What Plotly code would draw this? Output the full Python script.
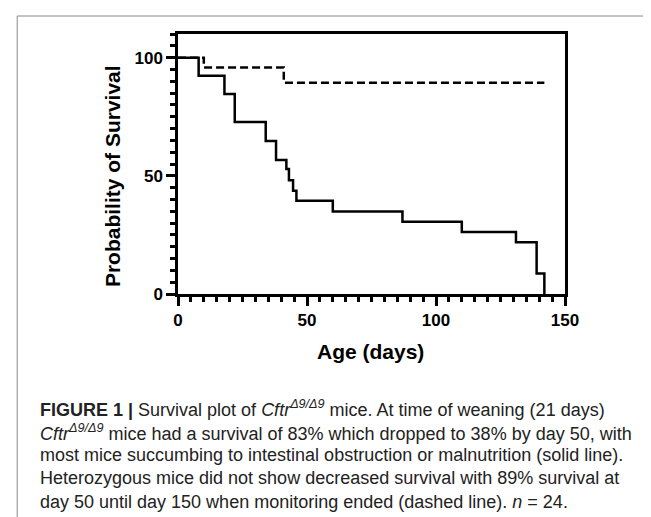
import plotly.graph_objects as go

# Kaplan-Meier data
solid_days = [0, 8, 18, 22, 34, 38, 42, 43, 44.6, 45.9, 60, 87, 110, 131, 139, 142]
solid_surv = [100, 92.3, 84.6, 72.8, 64.7, 56.7, 52.9, 48.1, 43.7, 39.4, 34.9, 30.6, 26.2, 21.9, 8.7, 0]
dashed_days = [0, 10, 41, 142]
dashed_surv = [100, 95.8, 89.4, 89.4]
x_ticks = [0, 50, 100, 150]
y_ticks = [0, 50, 100]

W, H = 651, 517
L, R, T, B = 170, 557.5, 26, 286  # plot area pixels

def px(x):
    return (x - L) / (R - L)

def py(y):
    return (B - y) / (B - T)

fig = go.Figure()
fig.add_trace(go.Scatter(x=dashed_days, y=dashed_surv, mode="lines", line_shape="hv",
                         line=dict(color="black", width=2.5, dash="8px,4px"), showlegend=False))
fig.add_trace(go.Scatter(x=solid_days, y=solid_surv, mode="lines", line_shape="hv",
                         line=dict(color="black", width=2.5), showlegend=False))

axis_common = dict(showgrid=False, zeroline=False, showline=True, linecolor="black", linewidth=2.5,
                   mirror=True, ticks="outside", ticklen=9, tickwidth=2.5, tickcolor="black",
                   tickfont=dict(family="Liberation Sans", size=17, color="black"))

fig.update_xaxes(range=[0, 150], tickvals=x_ticks, ticktext=[f"<b>{v}</b>" for v in x_ticks],
                 minor=dict(dtick=5, ticklen=5, tickwidth=2.5, tickcolor="black", ticks="outside"),
                 **axis_common)
fig.update_yaxes(range=[0, 110], tickvals=y_ticks, ticktext=[f"<b>{v}</b>" for v in y_ticks],
                 minor=dict(dtick=5, ticklen=5, tickwidth=2.5, tickcolor="black", ticks="outside"),
                 **axis_common)

anns = []
anns.append(dict(text="<b>Age (days)</b>", x=px(363), y=py(343), xref="paper", yref="paper",
                 showarrow=False, xanchor="center", yanchor="middle",
                 font=dict(family="Liberation Sans", size=21, color="black")))
anns.append(dict(text="<b>Probability of Survival</b>", x=px(104), y=py(168), xref="paper", yref="paper",
                 showarrow=False, xanchor="center", yanchor="middle", textangle=-90,
                 font=dict(family="Liberation Sans", size=21, color="black")))

caption = [
    "<b>FIGURE 1 |</b> Survival plot of <i>Cftr</i><sup><i>Δ9/Δ9</i></sup> mice. At time of weaning (21 days)",
    "<i>Cftr</i><sup><i>Δ9/Δ9</i></sup> mice had a survival of 83% which dropped to 38% by day 50, with",
    "most mice succumbing to intestinal obstruction or malnutrition (solid line).",
    "Heterozygous mice did not show decreased survival with 89% survival at",
    "day 50 until day 150 when monitoring ended (dashed line). <i>n</i> = 24.",
]
cap_y = [400, 424, 447, 470, 494]
for t, yy in zip(caption, cap_y):
    anns.append(dict(text=t, x=px(30), y=py(yy), xref="paper", yref="paper", showarrow=False,
                     xanchor="left", yanchor="middle",
                     font=dict(family="Liberation Sans", size=18, color="#222")))

fig.update_layout(
    width=W, height=H, margin=dict(l=L, r=W - R, t=T, b=H - B, pad=0),
    paper_bgcolor="white", plot_bgcolor="white", annotations=anns,
    shapes=[
        dict(type="line", xref="paper", yref="paper", x0=px(9), x1=px(W + 5), y0=py(8), y1=py(8),
             line=dict(color="#8a8a8a", width=1)),
        dict(type="line", xref="paper", yref="paper", x0=px(9), x1=px(9), y0=py(8), y1=py(H + 5),
             line=dict(color="#8a8a8a", width=1)),
    ],
)

fig.write_html("out.html")
